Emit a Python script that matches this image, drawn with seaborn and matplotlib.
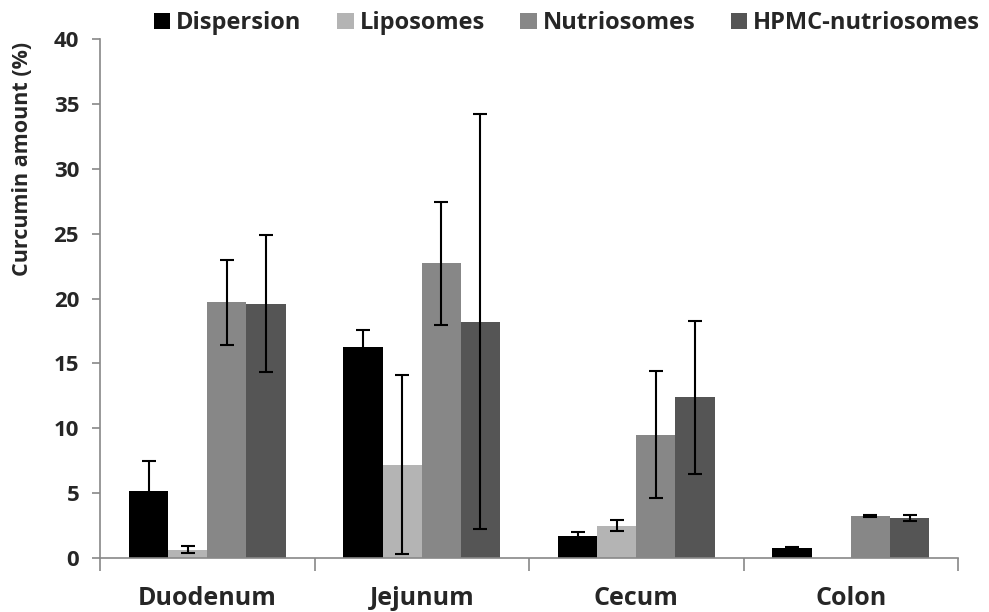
import matplotlib
matplotlib.use("Agg")
import matplotlib.pyplot as plt
import seaborn as sns
import pandas as pd
import numpy as np
from matplotlib.patches import Patch

categories = ["Duodenum", "Jejunum", "Cecum", "Colon"]
series = ["Dispersion", "Liposomes", "Nutriosomes", "HPMC-nutriosomes"]
dispersion = [5.15, 16.3, 1.7, 0.8]
dispersion_err = [2.3, 1.3, 0.3, 0.05]
liposomes = [0.65, 7.2, 2.5, 0.0]
liposomes_err = [0.25, 6.9, 0.4, 0.0]
nutriosomes = [19.7, 22.7, 9.5, 3.25]
nutriosomes_err = [3.3, 4.75, 4.9, 0.1]
hpmc = [19.6, 18.2, 12.4, 3.1]
hpmc_err = [5.3, 16.0, 5.9, 0.25]
colors = ["#000000", "#b4b4b4", "#878787", "#555555"]

values = [dispersion, liposomes, nutriosomes, hpmc]
errors = [dispersion_err, liposomes_err, nutriosomes_err, hpmc_err]
rows = []
for s, v in zip(series, values):
    for c, val in zip(categories, v):
        rows.append({"Segment": c, "Formulation": s, "Value": val})
df = pd.DataFrame(rows)

sns.set_style("white")
plt.rcParams["font.family"] = ["Open Sans", "DejaVu Sans"]

fig = plt.figure(figsize=(9.89, 6.12), dpi=100)
ax = fig.add_axes([0.1011, 0.0882, 0.8676, 0.8481])
sns.barplot(data=df, x="Segment", y="Value", hue="Formulation", order=categories,
            hue_order=series, palette=colors, width=0.73, gap=0, errorbar=None,
            saturation=1, linewidth=0, ax=ax, legend=False)

for cont, err in zip(ax.containers, errors):
    xs = [p.get_x() + p.get_width() / 2 for p in cont]
    hs = [p.get_height() for p in cont]
    for x, h, e in zip(xs, hs, err):
        if e > 0:
            ax.errorbar(x, h, yerr=e, fmt="none", ecolor="black", elinewidth=1.5,
                        capsize=5, capthick=1.5, zorder=5)

ax.set_ylim(0, 40)
ax.set_xlim(-0.5, 3.5)
ax.set_yticks(np.arange(0, 41, 5))
ax.tick_params(axis="y", length=6, width=1.2, color="#888888", labelsize=16, pad=9, left=True, direction="out")
ax.set_xticks(range(4))
ax.set_xticklabels(categories, fontsize=18, fontweight="bold")
ax.tick_params(axis="x", which="major", length=0, pad=20)
ax.set_xticks([-0.5, 0.5, 1.5, 2.5, 3.5], minor=True)
ax.tick_params(axis="x", which="minor", length=9, width=1.2, color="#888888", direction="out", bottom=True)
for lbl in ax.get_yticklabels():
    lbl.set_fontweight("bold")
ax.set_xlabel("")
ax.set_ylabel("Curcumin amount (%)", fontsize=15.5, fontweight="bold")
ax.yaxis.set_label_coords(-0.078, 0.769)
for side in ["top", "right"]:
    ax.spines[side].set_visible(False)
for side in ["left", "bottom"]:
    ax.spines[side].set_color("#888888")
    ax.spines[side].set_linewidth(1.2)

handles = [Patch(facecolor=c, edgecolor="none") for c in colors]
fig.legend(handles, series, loc="center left", bbox_to_anchor=(0.146, 0.962), ncol=4,
           frameon=False, prop={"size": 17, "weight": "bold"}, handlelength=0.7,
           handleheight=0.7, handletextpad=0.25, columnspacing=1.5, borderaxespad=0)

fig.savefig("out.png", dpi=100)
